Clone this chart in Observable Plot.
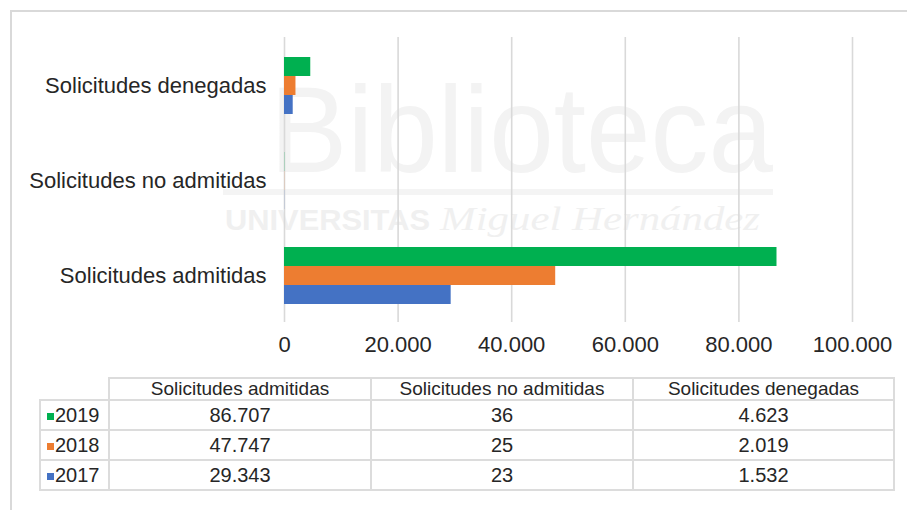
<!DOCTYPE html>
<html><head><meta charset="utf-8">
<script src="https://cdn.jsdelivr.net/npm/d3@7"></script>
<script src="https://cdn.jsdelivr.net/npm/@observablehq/plot@0.6"></script>
<style>
html,body{margin:0;padding:0;background:#fff;}
#root{position:relative;width:907px;height:510px;overflow:hidden;font-family:"Liberation Sans",Arial,sans-serif;}
.layer{position:absolute;left:0;top:0;}
#frame{position:absolute;left:10px;top:10px;width:920px;height:520px;border-top:2px solid #d9d9d9;border-left:2px solid #d9d9d9;}
#tbl{position:absolute;left:39px;top:377px;border-collapse:collapse;table-layout:fixed;color:#262626;}
#tbl td{border:2px solid #dcdcdc;text-align:center;padding:0;white-space:nowrap;font-size:20px;line-height:20px;}
#tbl tr.hdr td{height:19px;font-size:19px;}
#tbl tr.row td{height:28px;}
#tbl td.corner{border-top:none;border-left:none;}
#tbl td.yr{text-align:left;padding-left:6px;}
.key{display:inline-block;width:7px;height:7px;margin-right:1px;vertical-align:2px;}
</style></head>
<body><div id="root"><div id="frame"></div></div>
<script>
const categories = ["Solicitudes admitidas", "Solicitudes no admitidas", "Solicitudes denegadas"];
const chartOrder = ["Solicitudes denegadas", "Solicitudes no admitidas", "Solicitudes admitidas"];
const years = ["2019", "2018", "2017"];
const values2019 = [86707, 36, 4623];
const values2018 = [47747, 25, 2019];
const values2017 = [29343, 23, 1532];
const xTicks = [0, 20000, 40000, 60000, 80000, 100000];
const yearColors = ["#00B050", "#ED7D31", "#4472C4"];

const locale = d3.formatLocale({decimal: ",", thousands: ".", grouping: [3], currency: ["", " €"]});
const fmt = locale.format(",d");

const series = {"2019": values2019, "2018": values2018, "2017": values2017};
const rows = [];
categories.forEach((c, i) => years.forEach(y => rows.push({cat: c, year: y, value: series[y][i]})));

const root = document.getElementById("root");
const W = 907, H = 370;
const M = {marginLeft: 284, marginRight: 55, marginTop: 37, marginBottom: 48};
const font = {fontFamily: "'Liberation Sans', Arial, sans-serif", fontSize: "22px", color: "#262626", background: "transparent"};

// watermark (background)
const ns = "http://www.w3.org/2000/svg";
const wm = document.createElementNS(ns, "svg");
wm.setAttribute("width", W); wm.setAttribute("height", 510); wm.setAttribute("class", "layer");
wm.innerHTML = `
<text x="270" y="172" font-family="Liberation Sans, Arial" font-size="122" fill="#f3f3f3" textLength="503" lengthAdjust="spacingAndGlyphs">Biblioteca</text>
<rect x="223" y="189" width="550" height="6" fill="#f4f4f4"/>
<text x="225" y="230" font-family="Liberation Sans, Arial" font-size="30" font-weight="bold" fill="#f0f0f0" textLength="205" lengthAdjust="spacingAndGlyphs">UNIVERSITAS</text>
<text x="440" y="230" font-family="Liberation Serif, serif" font-style="italic" font-size="34" fill="#f0f0f0" textLength="320" lengthAdjust="spacingAndGlyphs">Miguel Hernández</text>`;
root.appendChild(wm);

// grid + x axis
const base = Plot.plot({
  width: W, height: H, ...M,
  style: font,
  x: {domain: [0, 100000], ticks: xTicks, tickFormat: fmt, tickSize: 0, tickPadding: 14, label: null},
  marks: [
    Plot.ruleX(xTicks, {stroke: "#d9d9d9", strokeWidth: 1.6})
  ]
});
base.classList.add("layer");
root.appendChild(base);

// bars
const bars = Plot.plot({
  width: W, height: H, ...M,
  style: font,
  x: {domain: [0, 100000], axis: null},
  y: {domain: years, axis: null, padding: 0},
  fy: {domain: chartOrder, paddingInner: 0.39, paddingOuter: 0.195, label: null, axis: "left", tickSize: 0, tickPadding: 18},
  color: {domain: years, range: yearColors},
  marks: [
    Plot.barX(rows, {x: "value", y: "year", fy: "cat", fill: "year"})
  ]
});
bars.classList.add("layer");
root.appendChild(bars);

// data table
const tbl = document.createElement("table");
tbl.id = "tbl";
const colW = [69, 262, 262, 261];
let html = "<colgroup>" + colW.map(w => `<col style="width:${w}px">`).join("") + "</colgroup>";
html += `<tr class="hdr"><td class="corner"></td>` + categories.map(c => `<td>${c}</td>`).join("") + "</tr>";
years.forEach((y, j) => {
  html += `<tr class="row"><td class="yr"><span class="key" style="background:${yearColors[j]}"></span>${y}</td>` +
    series[y].map(v => `<td>${fmt(v)}</td>`).join("") + "</tr>";
});
tbl.innerHTML = html;
root.appendChild(tbl);
</script>
</body></html>
